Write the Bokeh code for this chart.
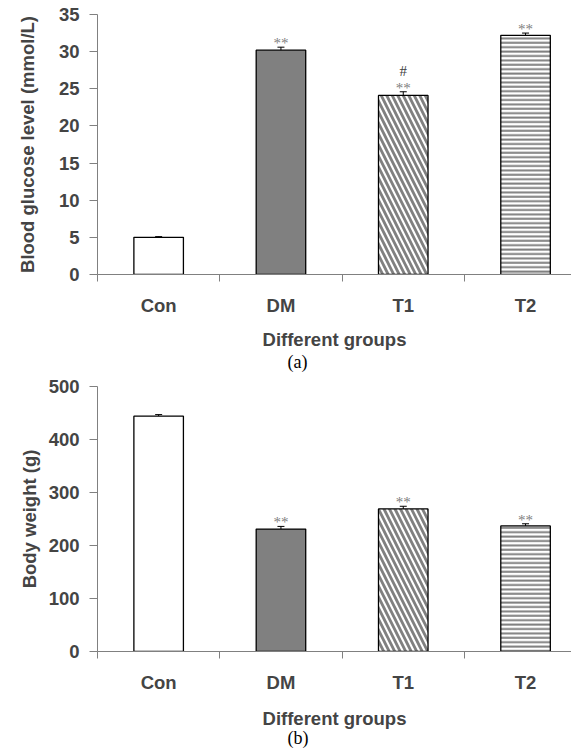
from bokeh.plotting import figure
from bokeh.models import (ColumnDataSource, FixedTicker, LinearAxis, Range1d,
                          Whisker, TeeHead, Title)
from bokeh.layouts import column
from bokeh.core.properties import value
from bokeh.embed import file_html
from bokeh.resources import INLINE

# ---------------- data ----------------
groups = ["Con", "DM", "T1", "T2"]
glucose = [5.0, 30.2, 24.1, 32.2]
glucose_err = [0.1, 0.4, 0.5, 0.3]
glucose_sig = ["", "**", "**", "**"]
glucose_sig2 = ["", "", "#", ""]
weight = [444, 231, 269, 237]
weight_err = [3, 5, 5, 4]
weight_sig = ["", "**", "**", "**"]
glucose_ticks = [0, 5, 10, 15, 20, 25, 30, 35]
weight_ticks = [0, 100, 200, 300, 400, 500]

SANS = "Liberation Sans"
SERIF = "Liberation Serif"
GRAY = "#808080"
FS = "18.5px"

fills = ["white", GRAY, "white", "white"]
hatches = [" ", " ", "\\", "-"]
hscales = [11, 11, 11, 4.4]
hweights = [2.8, 2.8, 2.8, 2.0]

xpos = [i + 0.5 for i in range(len(groups))]


def make_panel(vals, errs, sig, sig2, ticks, ymax, height, top_border,
               bottom_border, ylabel, ytitle_standoff, caption, xtitle_standoff,
               cap_standoff):
    p = figure(width=571, height=height, output_backend="svg",
               toolbar_location=None, x_axis_location=None, y_axis_location=None,
               x_range=Range1d(0, 474 / 122.3), y_range=Range1d(0, ymax),
               min_border_left=97, min_border_right=0,
               min_border_top=top_border, min_border_bottom=bottom_border)
    p.outline_line_color = None
    p.xgrid.visible = False
    p.ygrid.visible = False
    p.background_fill_color = "white"
    p.border_fill_color = "white"

    tops = [v + e for v, e in zip(vals, errs)]
    src = ColumnDataSource(dict(x=xpos, top=vals, upper=tops, fill=fills,
                                hatch=hatches, hs=hscales, hw=hweights,
                                sig=sig, sig2=sig2))
    p.vbar(x="x", top="top", bottom=0, width=0.405, source=src,
           fill_color="fill", line_color="black", line_width=1.3,
           hatch_pattern="hatch", hatch_scale="hs", hatch_weight="hw",
           hatch_color=GRAY)
    p.add_layout(Whisker(source=src, base="x", upper="upper", lower="top",
                         dimension="height", line_color="black", line_width=1,
                         upper_head=TeeHead(size=7, line_color="black", line_width=1),
                         lower_head=None))
    p.text(x="x", y="upper", text="sig", source=src, text_align="center",
           text_baseline="alphabetic", y_offset=-4,
           text_font=value(SERIF), text_font_size="15px", text_color=GRAY)
    p.text(x="x", y="upper", text="sig2", source=src, text_align="center",
           text_baseline="alphabetic", y_offset=-21,
           text_font=value(SERIF), text_font_size="15px", text_color="#404040")

    yaxis = LinearAxis(ticker=FixedTicker(ticks=ticks, minor_ticks=[]),
                       axis_label=ylabel)
    yaxis.axis_line_color = GRAY
    yaxis.major_tick_line_color = GRAY
    yaxis.major_tick_out = 8
    yaxis.major_tick_in = 0
    yaxis.major_label_standoff = 10
    yaxis.major_label_text_font = SANS
    yaxis.major_label_text_font_style = "bold"
    yaxis.major_label_text_font_size = FS
    yaxis.axis_label_text_font = SANS
    yaxis.axis_label_text_font_style = "bold"
    yaxis.axis_label_text_font_size = FS
    yaxis.axis_label_standoff = ytitle_standoff
    p.add_layout(yaxis, "left")

    xaxis = LinearAxis(ticker=FixedTicker(ticks=xpos, minor_ticks=[0, 1, 2, 3]),
                       major_label_overrides={x: g for x, g in zip(xpos, groups)},
                       axis_label="Different groups")
    xaxis.axis_line_color = GRAY
    xaxis.major_tick_out = 0
    xaxis.major_tick_in = 0
    xaxis.major_tick_line_color = None
    xaxis.minor_tick_out = 7
    xaxis.minor_tick_in = 0
    xaxis.minor_tick_line_color = GRAY
    xaxis.major_label_standoff = 13
    xaxis.major_label_text_font = SANS
    xaxis.major_label_text_font_style = "bold"
    xaxis.major_label_text_font_size = FS
    xaxis.axis_label_text_font = SANS
    xaxis.axis_label_text_font_style = "bold"
    xaxis.axis_label_text_font_size = FS
    xaxis.axis_label_standoff = xtitle_standoff
    p.add_layout(xaxis, "below")

    p.add_layout(Title(text=caption, align="left", offset=190, standoff=cap_standoff,
                       vertical_align="top", text_font=SERIF,
                       text_font_style="normal", text_font_size="18px",
                       text_color="black"), "below")
    return p


p1 = make_panel(glucose, glucose_err, glucose_sig, glucose_sig2, glucose_ticks, 35,
                375, 14, 101, "Blood glucose level (mmol/L)", 18, "(a)", 10, -2)
p2 = make_panel(weight, weight_err, weight_sig, ["", "", "", ""], weight_ticks, 500,
                379, 11, 103, "Body weight (g)", 6, "(b)", 12, -7)

layout = column(p1, p2, spacing=0)
open("out.html", "w").write(file_html(layout, INLINE))
